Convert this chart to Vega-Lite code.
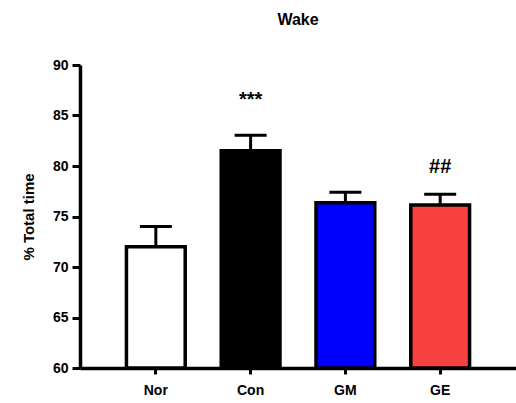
{
  "$schema": "https://vega.github.io/schema/vega-lite/v6.json",
  "width": 436,
  "height": 303,
  "autosize": {"type": "none"},
  "padding": {"left": 80, "top": 65, "right": 0, "bottom": 35},
  "background": "white",
  "title": {
    "text": "Wake",
    "fontSize": 16,
    "font": "Liberation Sans",
    "fontWeight": "bold",
    "offset": 30,
    "anchor": "middle"
  },
  "config": {
    "view": {"stroke": null},
    "font": "Liberation Sans"
  },
  "data": {
    "values": [
      {"group": "Nor", "mean": 72.0, "upper": 74.0, "sig": "", "sig_y": 74.0, "fill": "white"},
      {"group": "Con", "mean": 81.5, "upper": 83.05, "sig": "***", "sig_y": 86.5, "fill": "black"},
      {"group": "GM", "mean": 76.35, "upper": 77.4, "sig": "", "sig_y": 77.4, "fill": "blue"},
      {"group": "GE", "mean": 76.15, "upper": 77.2, "sig": "##", "sig_y": 79.9, "fill": "red"}
    ]
  },
  "encoding": {
    "x": {
      "field": "group",
      "type": "nominal",
      "sort": ["Nor", "Con", "GM", "GE"],
      "scale": {"paddingInner": 0.38, "paddingOuter": 0.49},
      "axis": {
        "title": null,
        "labelAngle": 0,
        "labelFont": "Liberation Sans",
        "labelFontSize": 14,
        "labelFontWeight": "bold",
        "labelColor": "black",
        "labelPadding": 9,
        "domainColor": "black",
        "domainWidth": 3.5,
        "tickColor": "black",
        "tickWidth": 3,
        "tickSize": 6
      }
    }
  },
  "layer": [
    {
      "mark": {"type": "rule", "strokeWidth": 3, "color": "black"},
      "encoding": {
        "y": {"field": "mean", "type": "quantitative"},
        "y2": {"field": "upper"}
      }
    },
    {
      "mark": {"type": "tick", "thickness": 3, "size": 32, "color": "black", "opacity": 1},
      "encoding": {
        "y": {"field": "upper", "type": "quantitative"}
      }
    },
    {
      "mark": {"type": "bar", "stroke": "black", "strokeWidth": 3.5},
      "encoding": {
        "y": {
          "field": "mean",
          "type": "quantitative",
          "scale": {"domain": [60, 90], "zero": false, "nice": false},
          "axis": {
            "title": "% Total time",
            "titleFont": "Liberation Sans",
            "titleFontSize": 15,
            "titleFontWeight": "bold",
            "titleColor": "black",
            "titlePadding": 16,
            "values": [60, 65, 70, 75, 80, 85, 90],
            "grid": false,
            "labelFont": "Liberation Sans",
            "labelFontSize": 14,
            "labelFontWeight": "bold",
            "labelColor": "black",
            "labelPadding": 4,
            "domainColor": "black",
            "domainWidth": 3.5,
            "tickColor": "black",
            "tickWidth": 3,
            "tickSize": 8
          }
        },
        "y2": {"datum": 60},
        "fill": {
          "field": "fill",
          "type": "nominal",
          "scale": {"domain": ["white", "black", "blue", "red"], "range": ["#ffffff", "#000000", "#0000ff", "#f94141"]},
          "legend": null
        }
      }
    },
    {
      "mark": {"type": "text", "fontSize": 20, "fontWeight": "bold", "font": "Liberation Sans", "color": "black", "baseline": "middle"},
      "encoding": {
        "y": {"field": "sig_y", "type": "quantitative"},
        "text": {"field": "sig"}
      }
    }
  ]
}
